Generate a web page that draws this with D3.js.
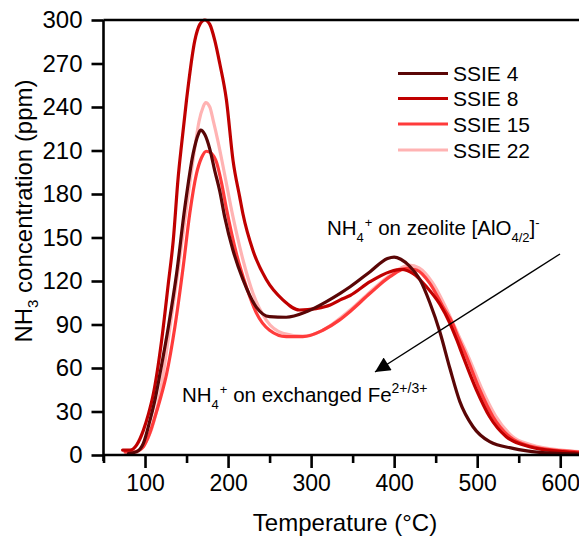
<!DOCTYPE html>
<html>
<head>
<meta charset="utf-8">
<script src="https://cdn.jsdelivr.net/npm/d3@7"></script>
<style>
  html, body { margin: 0; padding: 0; background: #fff; }
  svg { display: block; font-family: Arial, "Liberation Sans", sans-serif; }
</style>
</head>
<body>
<script>
// ---------- data ----------
const seriesNames = ["SSIE 4", "SSIE 8", "SSIE 15", "SSIE 22"];
const seriesColors = ["#5a0606", "#c00000", "#ff3b3b", "#ffb3b3"];

const ssie4 = [[80,1],[90,2.3],[98,8],[106,24],[112,38],[118,56],[128,88],[138,125],[148,171],[158,208],[164,221],[167,224],[172,221],[178,211],[184,196],[190,182],[196,164],[206,141],[218,121],[234,102],[250,95.4],[270,95],[295,99],[319,106],[335,111.5],[347,116],[371,126.4],[392,135.5],[400,136.5],[408,135],[419,130],[431,121],[443,105],[455,85],[467,60],[479,37],[495,19.5],[515,9.2],[543,4.6],[575,1.8],[603,1],[625,0.6]];
const ssie8 = [[73,3.4],[82,3.4],[90,7],[98,17],[104,28],[110,42],[120,79],[128,118],[134,148],[140,192],[144,214],[150,245],[160,286],[166,297],[172,300],[178,297],[184,286],[190,270],[198,245],[206,203],[214,178],[218,166],[230,141],[246,121],[266,107],[286,100],[306,101],[323,103.4],[335,107],[347,110],[371,119.5],[395,126.4],[409,128],[423,125],[439,116],[455,104],[467,91],[475,80],[483,68],[499,45],[515,26.4],[535,12.6],[563,5.7],[603,2.3],[625,1.2]];
const ssie15 = [[76,2],[85,2],[92,3],[98,5.7],[105,14],[112,26.4],[119,40],[126,56],[136,88.5],[146,130],[154,167],[162,194],[168,205],[174,209.5],[180,208],[186,202],[192,188],[198,170],[210,139],[222,116],[234,98],[250,86],[270,81.6],[290,81.6],[314,86],[334,93],[347,99],[371,111.5],[395,123],[415,128.7],[427,127.6],[443,118.4],[459,102],[471,90],[475,84],[487,68],[503,45],[519,26.4],[539,12.6],[563,6.2],[604,2.8],[625,2]];
const ssie22 = [[88,1],[98,6],[108,18],[118,42],[128,80],[140,128],[150,171],[160,212],[165,230],[170,240],[173,243],[178,240],[182,231],[188,216],[194,199],[206,164],[218,134.5],[230,111.5],[246,93],[266,84],[290,82],[314,86],[334,94],[347,100],[371,112.5],[395,124],[418,131],[430,129],[446,119],[462,102],[478,82],[490,67],[506,45],[522,27],[542,13],[565,7],[604,3.2],[625,2.3]];
const seriesData = [ssie4, ssie8, ssie15, ssie22];

const xMajorTicks = [100, 200, 300, 400, 500, 600];
const xMinorTicks = [50, 150, 250, 350, 450, 550];
const yTicks = [0, 30, 60, 90, 120, 150, 180, 210, 240, 270, 300];

// ---------- layout ----------
const W = 579, H = 537;
const svg = d3.select("body").append("svg").attr("width", W).attr("height", H);

const x = d3.scaleLinear().domain([50, 625]).range([103.5, 581]);
const y = d3.scaleLinear().domain([0, 300]).range([455, 20]);

svg.append("clipPath").attr("id", "clip").append("rect")
  .attr("x", x(50)).attr("y", 10).attr("width", W - x(50)).attr("height", 448);

// ---------- curves ----------
const line = d3.line().x(d => x(d[0])).y(d => y(d[1])).curve(d3.curveMonotoneX);
const drawOrder = [3, 2, 1, 0];
const gCurves = svg.append("g").attr("clip-path", "url(#clip)");
drawOrder.forEach(i => {
  gCurves.append("path").datum(seriesData[i])
    .attr("d", line).attr("fill", "none")
    .attr("stroke", seriesColors[i]).attr("stroke-width", 3.2)
    .attr("stroke-linejoin", "round").attr("stroke-linecap", "round");
});

// ---------- axes ----------
const xAxis = d3.axisBottom(x).tickValues(xMajorTicks).tickSize(13).tickPadding(7).tickFormat(d3.format("d"));
const gx = svg.append("g").attr("transform", `translate(0,${y(0)})`).call(xAxis);
gx.select(".domain").attr("stroke-width", 2.6).attr("d", `M${x(50)},0H${W + 5}`);
gx.selectAll(".tick line").attr("stroke-width", 2.6);
gx.selectAll(".tick text").attr("font-size", 23).attr("fill", "#000");

const xMinor = d3.axisBottom(x).tickValues(xMinorTicks).tickSize(8).tickFormat("");
const gxm = svg.append("g").attr("transform", `translate(0,${y(0)})`).call(xMinor);
gxm.select(".domain").remove();
gxm.selectAll(".tick line").attr("stroke-width", 2.6);

const yAxis = d3.axisLeft(y).tickValues(yTicks).tickSize(12).tickPadding(9).tickFormat(d3.format("d"));
const gy = svg.append("g").attr("transform", `translate(${x(50)},0)`).call(yAxis);
gy.select(".domain").attr("stroke-width", 2.6).attr("d", `M0,${y(300)}V${y(0) + 6}`);
gy.selectAll(".tick line").attr("stroke-width", 2.6);
gy.selectAll(".tick text").attr("font-size", 24).attr("fill", "#000");

// top border
svg.append("line").attr("x1", x(50)).attr("x2", W + 5).attr("y1", y(300)).attr("y2", y(300))
  .attr("stroke", "#000").attr("stroke-width", 2.6);

// axis titles
svg.append("text").attr("x", 345).attr("y", 531).attr("text-anchor", "middle")
  .attr("font-size", 24).text("Temperature (°C)");

const yt = svg.append("text").attr("transform", "translate(32,211) rotate(-90)")
  .attr("text-anchor", "middle").attr("font-size", 24);
yt.append("tspan").text("NH");
yt.append("tspan").attr("font-size", 15).attr("dy", 6).text("3");
yt.append("tspan").attr("dy", -6).text(" concentration (ppm)");

// ---------- legend ----------
const legendY = [73.5, 98.5, 124, 150];
seriesNames.forEach((name, i) => {
  svg.append("line").attr("x1", 398).attr("x2", 448).attr("y1", legendY[i]).attr("y2", legendY[i])
    .attr("stroke", seriesColors[i]).attr("stroke-width", 3.2);
  svg.append("text").attr("x", 453).attr("y", legendY[i] + 7.5).attr("font-size", 21).text(name);
});

// ---------- annotations ----------
const a1 = svg.append("text").attr("x", 327).attr("y", 235).attr("font-size", 20.5);
a1.append("tspan").text("NH");
a1.append("tspan").attr("font-size", 13).attr("dy", 7).text("4");
a1.append("tspan").attr("font-size", 13).attr("dy", -15).attr("dx", 1).text("+");
a1.append("tspan").attr("dy", 8).text(" on zeolite [AlO");
a1.append("tspan").attr("font-size", 13).attr("dy", 7).text("4/2");
a1.append("tspan").attr("dy", -7).text("]");
a1.append("tspan").attr("font-size", 13).attr("dy", -8).text("-");

const a2 = svg.append("text").attr("x", 182).attr("y", 402).attr("font-size", 20.5);
a2.append("tspan").text("NH");
a2.append("tspan").attr("font-size", 13).attr("dy", 7).text("4");
a2.append("tspan").attr("font-size", 13).attr("dy", -15).attr("dx", 1).text("+");
a2.append("tspan").attr("dy", 8).text(" on exchanged Fe");
a2.append("tspan").attr("font-size", 14).attr("dy", -9).text("2+/3+");

// arrow
svg.append("defs").append("marker").attr("id", "ah")
  .attr("viewBox", "0 0 10 10").attr("refX", 10).attr("refY", 5)
  .attr("markerWidth", 26).attr("markerHeight", 15).attr("markerUnits", "userSpaceOnUse")
  .attr("orient", "auto")
  .append("path").attr("d", "M0,0L10,5L0,10Z").attr("fill", "#000");
svg.append("line").attr("x1", 560).attr("y1", 254).attr("x2", 375).attr("y2", 372)
  .attr("stroke", "#000").attr("stroke-width", 1.4).attr("marker-end", "url(#ah)");
</script>
</body>
</html>
